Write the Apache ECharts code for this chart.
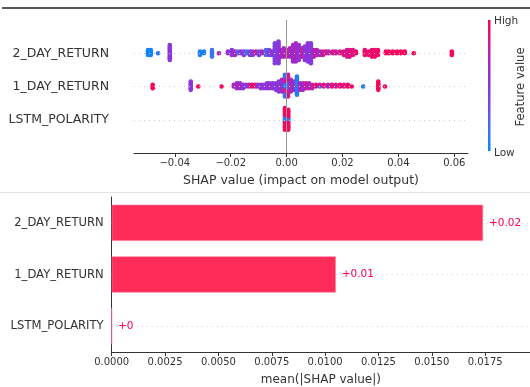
<!DOCTYPE html>
<html>
<head>
<meta charset="utf-8">
<script src="https://cdn.jsdelivr.net/npm/echarts@6/dist/echarts.min.js"></script>
<style>
html,body{margin:0;padding:0;background:#fff;}
#chart{width:530px;height:387px;}
</style>
</head>
<body>
<div id="chart"></div>
<script>
// ---- data ----
const features = ['LSTM_POLARITY', '1_DAY_RETURN', '2_DAY_RETURN'];
// beeswarm groups: [SHAP value, number of samples, normalised feature value 0..1]
const shap2DayReturn = [
  [-0.0496,4,0.05],[-0.0486,4,0.05],[-0.0460,1,0.12],
  [-0.0418,1,0.2],[-0.0418,9,0.5],
  [-0.0310,3,0.05],[-0.0296,2,0.08],[-0.0267,5,0.15],[-0.0242,1,0.7],
  [-0.0210,2,0.5],[-0.0196,4,0.5],[-0.0185,3,0.7],[-0.0174,2,0.2],[-0.0164,2,0.6],
  [-0.0153,3,0.4],[-0.0142,2,0.2],[-0.0131,3,0.45],[-0.0121,3,0.45],[-0.0110,2,0.8],
  [-0.0099,3,0.35],[-0.0088,2,0.7],[-0.0074,4,0.2],[-0.0063,4,0.4],[-0.0053,3,0.5],
  [-0.0042,13,0.4],[-0.0029,14,0.5],[-0.0020,5,0.7],[-0.0010,6,0.6],[0.0001,5,0.8],
  [0.0012,6,0.7],[0.0023,11,0.6],[0.0033,12,0.7],[0.0044,10,0.5],[0.0055,6,0.8],
  [0.0065,9,0.45],[0.0076,12,0.55],[0.0087,13,0.45],[0.0098,5,0.7],[0.0108,4,0.75],
  [0.0119,3,0.6],[0.0130,3,0.8],[0.0141,2,0.85],[0.0151,2,0.7],[0.0166,2,0.9],
  [0.0176,2,0.8],[0.0191,2,0.85],[0.0205,3,0.9],[0.0216,5,0.8],[0.0226,5,0.9],
  [0.0237,4,0.85],[0.0248,2,0.95],[0.0280,4,0.95],[0.0294,3,0.9],[0.0305,5,0.95],
  [0.0316,5,0.9],[0.0327,4,0.95],[0.0355,2,0.97],[0.0366,2,0.95],[0.0380,2,0.97],
  [0.0395,2,0.96],[0.0409,2,0.97],[0.0423,2,0.95],[0.0455,1,0.97],[0.0591,3,0.98]
];
const shap1DayReturn = [
  [-0.0479,3,0.98],[-0.0343,6,0.5],[-0.0316,1,0.95],[-0.0233,1,0.95],
  [-0.0189,2,0.7],[-0.0178,4,0.6],[-0.0167,4,0.7],[-0.0156,3,0.5],[-0.0146,2,0.45],
  [-0.0135,2,0.7],[-0.0124,2,0.95],[-0.0113,2,0.9],[-0.0103,2,0.5],[-0.0092,3,0.6],
  [-0.0081,3,0.45],[-0.0070,4,0.5],[-0.0060,4,0.6],[-0.0049,4,0.5],[-0.0038,5,0.45],
  [-0.0028,7,0.5],[-0.0017,8,0.6],
  [-0.0006,4,0.1],[-0.0006,6,0.8],[-0.0006,4,0.15],
  [0.0005,6,0.15],[0.0005,8,0.85],
  [0.0015,8,0.7],[0.0026,6,0.6],[0.0037,12,0.1],[0.0048,5,0.7],[0.0058,5,0.6],
  [0.0069,4,0.8],[0.0080,4,0.7],[0.0091,3,0.75],[0.0105,2,0.9],[0.0119,1,0.1],
  [0.0119,1,0.8],[0.0133,2,0.85],[0.0148,2,0.7],[0.0162,2,0.9],[0.0176,2,0.8],
  [0.0191,2,0.95],[0.0205,2,0.85],[0.0219,2,0.95],[0.0233,1,0.95],[0.0274,1,0.1],
  [0.0328,6,0.98],[0.0352,1,0.97]
];
const shapLstmPolarity = [
  [-0.0006,4,0.1],[-0.0006,10,0.97],
  [0.0006,3,0.15],[0.0006,10,0.95]
];
const meanAbsShap = [0, 0.0105, 0.0174];
const shapTicks = [-0.04, -0.02, 0, 0.02, 0.04, 0.06];
const meanTicksInterval = 0.0025;

// ---- styling constants ----
const FONT = 'DejaVu Sans';
const TXT = '#333333';
const RED = '#ff0051';
const cmapStops = [
  [0, '#008bfb'], [1 / 6, '#3f70f6'], [2 / 6, '#7447e8'], [3 / 6, '#8b35db'],
  [4 / 6, '#a527c6'], [5 / 6, '#d8188f'], [1, '#ff0051']
];
const STEP = 0.05;

function swarm(groups, row) {
  const used = new Map();
  const out = [];
  groups.forEach(([v, n, f]) => {
    const k = used.get(v) || 0;
    for (let i = 0; i < n; i++) {
      const layer = k + i;
      const off = Math.ceil(layer / 2) * ((layer % 2) * 2 - 1);
      out.push([v, row + off * STEP, f]);
    }
    used.set(v, k + n);
  });
  return out;
}
const beeData = []
  .concat(swarm(shapLstmPolarity, 0))
  .concat(swarm(shap1DayReturn, 1))
  .concat(swarm(shap2DayReturn, 2));

const dotted = {color: '#cccccc', type: [1, 4], width: 1};

const chart = echarts.init(document.getElementById('chart'), null, {renderer: 'canvas'});
chart.setOption({
  animation: false,
  backgroundColor: '#ffffff',
  textStyle: {fontFamily: FONT},
  grid: [
    {left: 134, right: 62, top: 20, bottom: 234},
    {left: 111.7, right: 0, top: 197, bottom: 34}
  ],
  xAxis: [
    {
      gridIndex: 0, type: 'value', min: -0.0546, max: 0.0649,
      name: 'SHAP value (impact on model output)', nameLocation: 'middle', nameGap: 21,
      nameTextStyle: {fontFamily: FONT, fontSize: 12.5, color: TXT},
      axisLine: {show: true, onZero: false, lineStyle: {color: '#333', width: 1}},
      axisTick: {show: true, length: 4, customValues: shapTicks, lineStyle: {color: '#333'}},
      axisLabel: {customValues: shapTicks, margin: 5, fontFamily: FONT, fontSize: 10, color: TXT,
        formatter: v => v.toFixed(2).replace('-', '\u2212')},
      splitLine: {show: false}
    },
    {
      gridIndex: 1, type: 'value', min: 0, max: 0.0196, interval: meanTicksInterval,
      name: 'mean(|SHAP value|)', nameLocation: 'middle', nameGap: 22,
      nameTextStyle: {fontFamily: FONT, fontSize: 12, color: TXT},
      axisLine: {show: true, onZero: false, lineStyle: {color: '#333', width: 1}},
      axisTick: {show: true, length: 4, lineStyle: {color: '#333'}},
      axisLabel: {margin: 5, fontFamily: FONT, fontSize: 10, color: TXT, showMaxLabel: false,
        formatter: v => v.toFixed(4)},
      splitLine: {show: false}
    }
  ],
  yAxis: [
    {
      gridIndex: 0, type: 'value', min: -1, max: 3, interval: 1,
      axisLine: {show: false}, axisTick: {show: false}, splitLine: {show: false},
      axisLabel: {margin: 25, fontFamily: FONT, fontSize: 12.5, color: TXT,
        formatter: v => features[v] || ''}
    },
    {
      gridIndex: 1, type: 'category', data: features,
      axisLine: {show: true, onZero: false, lineStyle: {color: '#333', width: 1}},
      axisTick: {show: false}, splitLine: {show: false},
      axisLabel: {margin: 8, fontFamily: FONT, fontSize: 11.6, color: TXT}
    }
  ],
  visualMap: {
    type: 'continuous', show: false, seriesIndex: 1, dimension: 2, min: 0, max: 1,
    inRange: {color: cmapStops.map(s => s[1])}
  },
  series: [
    {
      type: 'scatter', xAxisIndex: 0, yAxisIndex: 0, data: [], z: 1, silent: true,
      markLine: {
        silent: true, symbol: 'none', label: {show: false},
        data: [
          {xAxis: 0, lineStyle: {color: '#999999', type: 'solid', width: 1}},
          {yAxis: 0, lineStyle: dotted},
          {yAxis: 1, lineStyle: dotted},
          {yAxis: 2, lineStyle: dotted}
        ]
      }
    },
    {
      type: 'scatter', xAxisIndex: 0, yAxisIndex: 0, z: 3,
      symbolSize: 4.6, data: beeData,
      itemStyle: {opacity: 1}
    },
    {
      type: 'bar', xAxisIndex: 1, yAxisIndex: 1, z: 3,
      data: meanAbsShap, barWidth: '70%',
      itemStyle: {color: '#ff2b59', borderColor: '#ff7b98', borderWidth: 0.6},
      label: {show: true, position: 'right', distance: 6, fontFamily: FONT, fontSize: 10.5, color: RED,
        formatter: p => '+' + String(+p.value.toFixed(2))},
      markLine: {
        silent: true, symbol: 'none', label: {show: false}, z: 1,
        data: features.map(f => ({yAxis: f, lineStyle: dotted}))
      }
    }
  ],
  graphic: [
    {type: 'line', shape: {x1: 2, y1: 8, x2: 530, y2: 8}, style: {stroke: '#222', lineWidth: 1.5}},
    {type: 'line', shape: {x1: 0, y1: 192.5, x2: 530, y2: 192.5}, style: {stroke: '#e4e4e4', lineWidth: 1}},
    {type: 'rect', shape: {x: 488, y: 20, width: 2.5, height: 131},
      style: {fill: new echarts.graphic.LinearGradient(0, 1, 0, 0,
        cmapStops.map(s => ({offset: s[0], color: s[1]})))}},
    {type: 'text', x: 494, y: 21, style: {text: 'High', fontFamily: FONT, fontSize: 10.5, fill: TXT, verticalAlign: 'middle'}},
    {type: 'text', x: 494, y: 153, style: {text: 'Low', fontFamily: FONT, fontSize: 10.5, fill: TXT, verticalAlign: 'middle'}},
    {type: 'text', x: 521, y: 87, rotation: Math.PI / 2,
      style: {text: 'Feature value', fontFamily: FONT, fontSize: 11.6, fill: TXT, align: 'center', verticalAlign: 'middle'}}
  ]
});
</script>
</body>
</html>
